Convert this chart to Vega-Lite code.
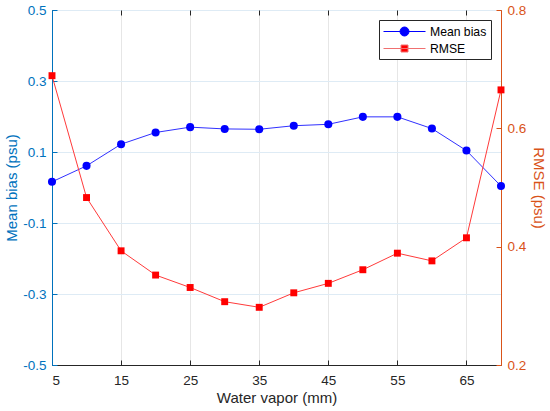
{
  "$schema": "https://vega.github.io/schema/vega-lite/v6.json",
  "width": 449,
  "height": 355,
  "autosize": {"type": "none"},
  "padding": {"left": 52, "top": 10, "right": 49, "bottom": 46},
  "background": "white",
  "config": {
    "font": "Liberation Sans",
    "view": {"stroke": "#262626", "strokeWidth": 1},
    "axis": {
      "labelFont": "Liberation Sans",
      "titleFont": "Liberation Sans",
      "labelFontSize": 13.5,
      "titleFontSize": 15,
      "titleFontWeight": "normal",
      "tickSize": -5,
      "tickWidth": 1,
      "domainWidth": 1
    }
  },
  "data": {
    "values": [
      {"vapor": 5, "series": "Mean bias", "value": 0.016},
      {"vapor": 10, "series": "Mean bias", "value": 0.061},
      {"vapor": 15, "series": "Mean bias", "value": 0.122},
      {"vapor": 20, "series": "Mean bias", "value": 0.155},
      {"vapor": 25, "series": "Mean bias", "value": 0.17},
      {"vapor": 30, "series": "Mean bias", "value": 0.165},
      {"vapor": 35, "series": "Mean bias", "value": 0.164},
      {"vapor": 40, "series": "Mean bias", "value": 0.174},
      {"vapor": 45, "series": "Mean bias", "value": 0.178},
      {"vapor": 50, "series": "Mean bias", "value": 0.199},
      {"vapor": 55, "series": "Mean bias", "value": 0.199},
      {"vapor": 60, "series": "Mean bias", "value": 0.166},
      {"vapor": 65, "series": "Mean bias", "value": 0.104},
      {"vapor": 70, "series": "Mean bias", "value": 0.004},
      {"vapor": 5, "series": "RMSE", "value": 0.689},
      {"vapor": 10, "series": "RMSE", "value": 0.483},
      {"vapor": 15, "series": "RMSE", "value": 0.393},
      {"vapor": 20, "series": "RMSE", "value": 0.352},
      {"vapor": 25, "series": "RMSE", "value": 0.331},
      {"vapor": 30, "series": "RMSE", "value": 0.307},
      {"vapor": 35, "series": "RMSE", "value": 0.2975},
      {"vapor": 40, "series": "RMSE", "value": 0.322},
      {"vapor": 45, "series": "RMSE", "value": 0.338},
      {"vapor": 50, "series": "RMSE", "value": 0.361},
      {"vapor": 55, "series": "RMSE", "value": 0.389},
      {"vapor": 60, "series": "RMSE", "value": 0.376},
      {"vapor": 65, "series": "RMSE", "value": 0.415},
      {"vapor": 70, "series": "RMSE", "value": 0.665}
    ]
  },
  "layer": [
    {
      "transform": [{"filter": "datum.series === 'Mean bias'"}],
      "encoding": {
        "x": {
          "field": "vapor",
          "type": "quantitative",
          "scale": {"domain": [5, 70], "nice": false, "zero": false},
          "axis": {
            "orient": "bottom",
            "values": [5, 15, 25, 35, 45, 55, 65],
            "title": "Water vapor (mm)",
            "titleColor": "#262626",
            "labelColor": "#262626",
            "domainColor": "#262626",
            "tickColor": "#262626",
            "grid": true,
            "gridColor": "#e6e6e6",
            "labelPadding": 13,
            "titlePadding": 4
          }
        },
        "y": {
          "field": "value",
          "type": "quantitative",
          "scale": {"domain": [-0.5, 0.5], "nice": false, "zero": false},
          "axis": {
            "orient": "left",
            "values": [-0.5, -0.3, -0.1, 0.1, 0.3, 0.5],
            "labelExpr": "'' + datum.value",
            "title": "Mean bias (psu)",
            "titleColor": "#0072BD",
            "labelColor": "#0072BD",
            "domainColor": "#0072BD",
            "tickColor": "#0072BD",
            "grid": true,
            "gridColor": "#deebf5",
            "labelPadding": 11,
            "titlePadding": 3
          }
        }
      },
      "layer": [
        {"mark": {"type": "line", "color": "#3030ff", "strokeWidth": 1}},
        {"mark": {"type": "point", "shape": "circle", "filled": true, "opacity": 1, "color": "#0000ff", "size": 65}},
        {
          "transform": [{"filter": "false"}],
          "mark": {"type": "point", "filled": true, "opacity": 1, "size": 196, "strokeWidth": 1},
          "encoding": {
            "fill": {
              "field": "series",
              "type": "nominal",
              "scale": {"domain": ["Mean bias", "RMSE"], "range": ["#0000ff", "#ff0000"]},
              "legend": {
                "title": null,
                "orient": "top-right",
                "offset": 10,
                "strokeColor": "#262626",
                "fillColor": "white",
                "padding": 4,
                "labelFont": "Liberation Sans",
                "labelFontSize": 12.2,
                "labelColor": "#000000",
                "labelOffset": 32,
                "symbolSize": 196,
                "symbolStrokeWidth": 1,
                "rowPadding": 2
              }
            },
            "stroke": {
              "field": "series",
              "type": "nominal",
              "scale": {"domain": ["Mean bias", "RMSE"], "range": ["#0000ff", "#f07070"]}
            },
            "shape": {
              "field": "series",
              "type": "nominal",
              "scale": {
                "domain": ["Mean bias", "RMSE"],
                "range": [
                  "M-1,0H5M2.643,0A0.643,0.643,0,1,1,1.357,0A0.643,0.643,0,1,1,2.643,0Z",
                  "M-1,0H5M1.5,-0.5H2.5V0.5H1.5Z"
                ]
              }
            }
          }
        }
      ]
    },
    {
      "transform": [{"filter": "datum.series === 'RMSE'"}],
      "encoding": {
        "x": {
          "field": "vapor",
          "type": "quantitative",
          "scale": {"domain": [5, 70], "nice": false, "zero": false},
          "axis": {
            "orient": "top",
            "values": [5, 15, 25, 35, 45, 55, 65],
            "title": null,
            "labels": false,
            "domain": false,
            "grid": false,
            "tickColor": "#262626"
          }
        },
        "y": {
          "field": "value",
          "type": "quantitative",
          "scale": {"domain": [0.2, 0.8], "nice": false, "zero": false},
          "axis": {
            "orient": "right",
            "values": [0.2, 0.4, 0.6, 0.8],
            "labelExpr": "'' + datum.value",
            "title": "RMSE (psu)",
            "titleColor": "#D95319",
            "labelColor": "#D95319",
            "domainColor": "#D95319",
            "tickColor": "#D95319",
            "grid": false,
            "labelPadding": 11,
            "titlePadding": 5
          }
        }
      },
      "layer": [
        {"mark": {"type": "line", "color": "#ff3a3a", "strokeWidth": 1}},
        {"mark": {"type": "point", "shape": "square", "filled": true, "opacity": 1, "color": "#ff0000", "size": 48}}
      ]
    }
  ],
  "resolve": {"scale": {"y": "independent"}, "axis": {"x": "independent"}}
}
